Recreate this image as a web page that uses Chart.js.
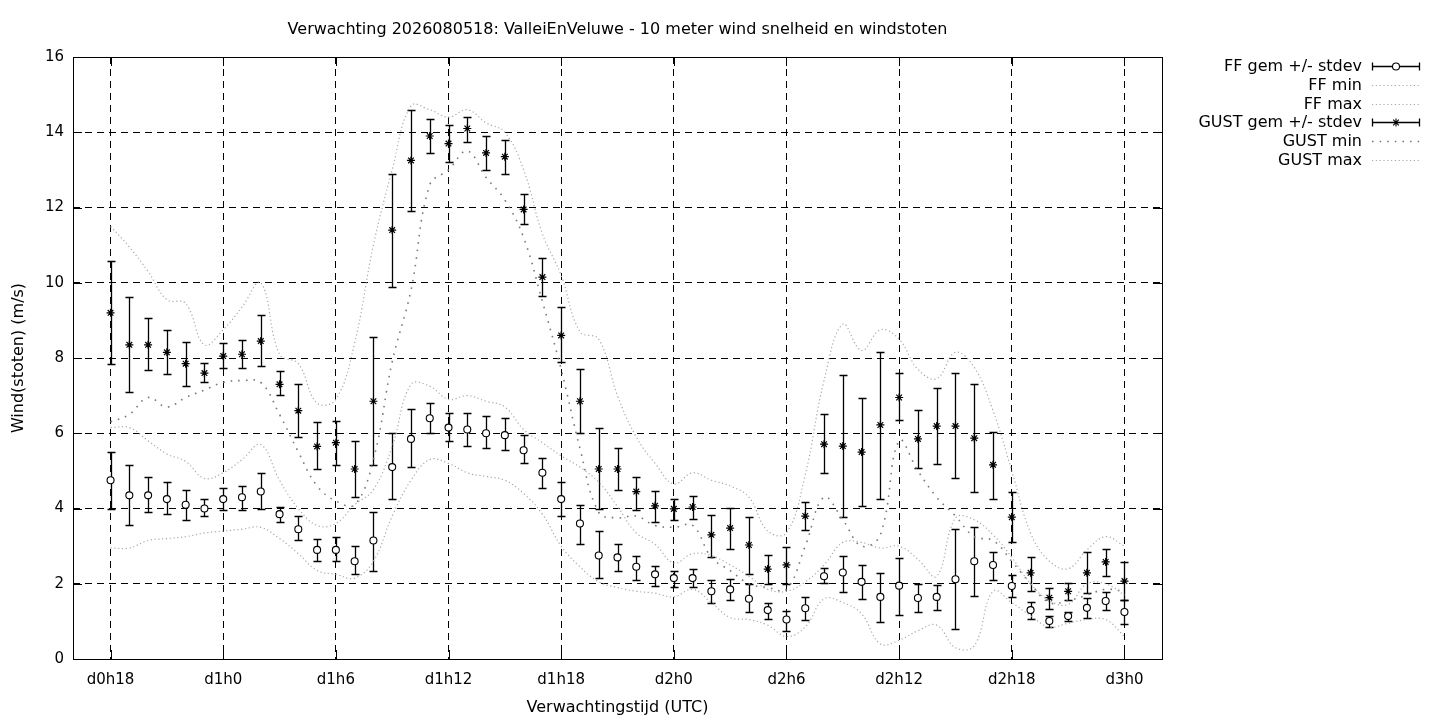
<!DOCTYPE html>
<html lang="nl">
<head>
  <meta charset="UTF-8">
  <title>Verwachting 2026080518: ValleiEnVeluwe - 10 meter wind</title>
  <style>
    body {
      margin: 0;
      background: #fff;
      overflow: hidden;
    }
    canvas {
      display: block;
    }
  </style>
</head>
<body>
<canvas id="windChart" width="1440" height="720"></canvas>

<script src="https://cdn.jsdelivr.net/npm/chart.js"></script>
<script>
  // forecast hours (d0h18 .. d3h0)
  const hours = [18, 19, 20, 21, 22, 23, 24, 25, 26, 27, 28, 29, 30, 31, 32, 33, 34, 35, 36, 37,
    38, 39, 40, 41, 42, 43, 44, 45, 46, 47, 48, 49, 50, 51, 52, 53, 54, 55, 56, 57,
    58, 59, 60, 61, 62, 63, 64, 65, 66, 67, 68, 69, 70, 71, 72];

  const tickHours = [18, 24, 30, 36, 42, 48, 54, 60, 66, 72];
  const tickLabels = ['d0h18', 'd1h0', 'd1h6', 'd1h12', 'd1h18', 'd2h0', 'd2h6', 'd2h12', 'd2h18', 'd3h0'];

  // FF gemiddeld en errorbar (gem -/+ stdev)
  const ffMean = [4.75, 4.35, 4.35, 4.25, 4.1, 4.0, 4.25, 4.3, 4.45, 3.85,
    3.45, 2.9, 2.9, 2.6, 3.15, 5.1, 5.85, 6.4, 6.15, 6.1,
    6.0, 5.95, 5.55, 4.95, 4.25, 3.6, 2.75, 2.7, 2.45, 2.25,
    2.15, 2.15, 1.8, 1.85, 1.6, 1.3, 1.05, 1.35, 2.2, 2.3,
    2.05, 1.65, 1.95, 1.62, 1.65, 2.12, 2.6, 2.5, 1.94, 1.3,
    1.01, 1.14, 1.36, 1.54, 1.25];
  const ffLo = [4.0, 3.55, 3.9, 3.85, 3.7, 3.8, 3.95, 3.95, 4.0, 3.65,
    3.15, 2.6, 2.6, 2.25, 2.35, 4.25, 5.1, 6.0, 5.8, 5.65,
    5.6, 5.55, 5.2, 4.55, 3.8, 3.05, 2.15, 2.35, 2.1, 1.94,
    1.92, 1.92, 1.49, 1.56, 1.25, 1.06, 0.75, 1.04, 2.02, 1.78,
    1.6, 0.98, 1.17, 1.25, 1.3, 0.8, 1.68, 2.1, 1.65, 1.06,
    0.85, 1.01, 1.09, 1.3, 0.93];
  const ffHi = [5.5, 5.15, 4.85, 4.7, 4.5, 4.25, 4.55, 4.6, 4.95, 4.05,
    3.8, 3.2, 3.25, 3.0, 3.9, 6.0, 6.65, 6.8, 6.55, 6.55,
    6.45, 6.4, 5.95, 5.35, 4.7, 4.1, 3.4, 3.05, 2.75, 2.47,
    2.34, 2.38, 2.1, 2.12, 1.99, 1.49, 1.28, 1.65, 2.42, 2.74,
    2.5, 2.29, 2.68, 2.0, 1.97, 3.45, 3.52, 2.84, 2.23, 1.52,
    1.14, 1.25, 1.62, 1.78, 1.57];
  const ffMin = [2.95, 2.95, 3.15, 3.2, 3.25, 3.35, 3.4, 3.45, 3.5, 3.2,
    2.8, 2.35, 2.25, 2.15, 2.6, 3.8, 4.75, 5.3, 5.2, 4.95,
    4.85, 4.75, 4.4, 3.85, 3.0, 2.45, 2.05, 1.9, 1.8, 1.75,
    1.65, 1.85, 1.5, 1.1, 1.05, 0.9, 0.6, 0.85, 1.6, 1.5,
    1.2, 0.4, 0.5, 0.75, 0.9, 0.3, 0.35, 1.8, 1.5, 1.15,
    0.85, 0.95, 1.05, 1.05, 0.6];
  const ffMax = [6.15, 6.15, 5.8, 5.45, 5.25, 4.8, 4.95, 5.3, 5.7, 4.75,
    4.0, 3.55, 3.6, 4.1, 4.5, 5.65, 7.3, 7.25, 6.9, 7.0,
    6.85, 6.7, 6.1, 5.75, 5.4, 5.1, 4.7, 4.05, 3.35, 3.05,
    2.55, 2.8, 2.75, 2.5, 2.2, 1.85, 1.8, 2.05, 2.5, 3.1,
    3.1, 2.95, 3.0, 2.65, 2.2, 3.75, 3.7, 3.3, 2.7, 2.0,
    1.55, 1.45, 2.0, 2.0, 1.7];

  // GUST gemiddeld en errorbar
  const gustMean = [9.2, 8.35, 8.35, 8.15, 7.85, 7.6, 8.05, 8.1, 8.45, 7.3,
    6.6, 5.65, 5.75, 5.05, 6.85, 11.4, 13.25, 13.9, 13.7, 14.1,
    13.45, 13.35, 11.95, 10.15, 8.6, 6.85, 5.05, 5.05, 4.45, 4.07,
    3.99, 4.04, 3.3, 3.48, 3.03, 2.39, 2.5, 3.8, 5.71, 5.66,
    5.5, 6.22, 6.95, 5.85, 6.19, 6.19, 5.87, 5.16, 3.77, 2.29,
    1.63, 1.8, 2.29, 2.58, 2.07];
  const gustLo = [7.84, 7.1, 7.68, 7.57, 7.26, 7.36, 7.73, 7.73, 7.78, 7.02,
    5.9, 5.05, 5.15, 4.3, 5.15, 9.9, 11.9, 13.45, 13.2, 13.75,
    13.0, 12.9, 11.55, 9.65, 7.9, 6.0, 4.0, 4.5, 3.95, 3.64,
    3.69, 3.72, 2.71, 2.92, 2.26, 1.99, 2.0, 3.43, 4.94, 3.77,
    4.07, 4.25, 6.35, 5.08, 5.18, 4.81, 4.44, 4.26, 3.11, 1.81,
    1.33, 1.57, 1.75, 2.21, 1.57];
  const gustHi = [10.58, 9.62, 9.06, 8.74, 8.43, 7.87, 8.4, 8.48, 9.14, 7.65,
    7.31, 6.3, 6.33, 5.8, 8.55, 12.9, 14.6, 14.35, 14.2, 14.4,
    13.9, 13.8, 12.35, 10.65, 9.35, 7.7, 6.15, 5.6, 4.85, 4.47,
    4.25, 4.33, 3.83, 4.01, 3.77, 2.76, 2.98, 4.17, 6.5, 7.55,
    6.95, 8.15, 7.6, 6.62, 7.2, 7.6, 7.3, 6.02, 4.44, 2.71,
    1.89, 2.03, 2.84, 2.92, 2.58];
  const gustMin = [6.3, 6.5, 6.95, 6.7, 6.95, 7.15, 7.35, 7.4, 7.35, 6.5,
    5.5, 4.6, 4.2, 4.1, 5.3, 7.9, 9.8, 12.6, 13.0, 13.5,
    12.8, 12.2, 11.2, 9.5, 7.7, 5.6, 3.9, 3.75, 3.8, 3.55,
    3.5, 3.55, 2.7, 2.35, 2.0, 1.9, 1.85, 3.0, 4.3, 3.7,
    3.0, 3.3, 5.8, 5.0, 4.3, 3.8, 3.25, 3.15, 2.6, 2.0,
    1.5, 1.55, 1.7, 1.85, 1.8];
  const gustMax = [11.5, 10.95, 10.3, 9.55, 9.45, 8.35, 8.75, 9.35, 10.0, 8.1,
    7.85, 6.8, 6.9, 8.4, 11.0, 13.0, 14.7, 14.6, 14.4, 14.6,
    14.25, 14.0, 13.0, 11.3, 10.2, 8.7, 8.5, 7.0, 5.9, 5.2,
    4.65, 4.95, 4.75, 4.6, 4.3, 3.4, 3.35, 4.9, 7.4, 8.9,
    8.2, 8.75, 8.5, 7.7, 7.45, 8.15, 7.75, 6.6, 5.0, 3.35,
    2.6, 2.4, 2.9, 3.25, 3.0];

  const FONT = '"DejaVu Sans", "Liberation Sans", sans-serif';

  function pts(values) {
    return hours.map((h, i) => ({ x: h, y: values[i] }));
  }

  // errorbars worden hier getekend (onder de punten)
  const errorBars = {
    id: 'errorBars',
    beforeDatasetsDraw(chart) {
      const { ctx, scales: { x, y } } = chart;
      ctx.save();
      ctx.strokeStyle = '#000';
      ctx.lineWidth = 1.3;
      chart.data.datasets.forEach(ds => {
        if (!ds.lo) return;
        hours.forEach((h, i) => {
          const px = Math.round(x.getPixelForValue(h)) + 0.5;
          const y1 = Math.round(y.getPixelForValue(ds.lo[i])) + 0.5;
          const y2 = Math.round(y.getPixelForValue(ds.hi[i])) + 0.5;
          ctx.beginPath();
          ctx.moveTo(px, y1); ctx.lineTo(px, y2);
          ctx.moveTo(px - 4, y1); ctx.lineTo(px + 4, y1);
          ctx.moveTo(px - 4, y2); ctx.lineTo(px + 4, y2);
          ctx.stroke();
        });
      });
      ctx.restore();
    }
  };

  // rand, tickmarks, titels en legenda in gnuplot stijl
  const gnuplotDecor = {
    id: 'gnuplotDecor',
    afterDraw(chart) {
      const { ctx, chartArea: a, scales: { x, y } } = chart;
      ctx.save();
      ctx.strokeStyle = '#000';
      ctx.lineWidth = 1;
      ctx.setLineDash([]);
      ctx.strokeRect(Math.round(a.left) + 0.5, Math.round(a.top) + 0.5,
        Math.round(a.right - a.left), Math.round(a.bottom - a.top));

      ctx.beginPath();
      for (let v = 0; v <= 16; v += 2) {
        const py = Math.round(y.getPixelForValue(v)) + 0.5;
        ctx.moveTo(a.left, py); ctx.lineTo(a.left + 9, py);
        ctx.moveTo(a.right, py); ctx.lineTo(a.right - 9, py);
      }
      tickHours.forEach(h => {
        const px = Math.round(x.getPixelForValue(h)) + 0.5;
        ctx.moveTo(px, a.bottom); ctx.lineTo(px, a.bottom - 9);
        ctx.moveTo(px, a.top); ctx.lineTo(px, a.top + 9);
      });
      ctx.stroke();

      ctx.fillStyle = '#000';
      ctx.font = '16px ' + FONT;
      ctx.textAlign = 'center';
      ctx.textBaseline = 'middle';
      const cx = (a.left + a.right) / 2;
      ctx.fillText('Verwachting 2026080518: ValleiEnVeluwe - 10 meter wind snelheid en windstoten', cx, 30);
      ctx.fillText('Verwachtingstijd (UTC)', cx, 708);
      ctx.save();
      ctx.translate(19, (a.top + a.bottom) / 2);
      ctx.rotate(-Math.PI / 2);
      ctx.fillText('Wind(stoten) (m/s)', 0, 0);
      ctx.restore();

      // legenda
      const textRight = 1362, x0 = 1372, x1 = 1420;
      ctx.textAlign = 'right';
      chart.data.datasets.forEach((ds, i) => {
        const ly = 66 + i * 18.75;
        ctx.fillStyle = '#000';
        ctx.fillText(ds.label, textRight, ly + 1);
        const yy = Math.round(ly) + 0.5;
        ctx.save();
        if (ds.lo) {
          ctx.strokeStyle = '#000';
          ctx.lineWidth = 1.3;
          ctx.setLineDash([]);
          ctx.beginPath();
          ctx.moveTo(x0, yy); ctx.lineTo(x1, yy);
          ctx.moveTo(x0 + 0.5, yy - 4); ctx.lineTo(x0 + 0.5, yy + 4);
          ctx.moveTo(x1 - 0.5, yy - 4); ctx.lineTo(x1 - 0.5, yy + 4);
          ctx.stroke();
          ctx.fillStyle = ds.pointBackgroundColor;
          ctx.strokeStyle = '#000';
          ctx.lineWidth = 1.1;
          Chart.helpers.drawPoint(ctx, {
            pointStyle: ds.pointStyle, radius: ds.pointRadius, borderWidth: 1.1, rotation: 0
          }, (x0 + x1) / 2, yy);
        } else {
          ctx.strokeStyle = ds.borderColor;
          ctx.lineWidth = ds.borderWidth;
          ctx.setLineDash(ds.borderDash);
          ctx.beginPath();
          ctx.moveTo(x0, yy); ctx.lineTo(x1, yy);
          ctx.stroke();
        }
        ctx.restore();
      });
      ctx.restore();
    }
  };

  const fineDots = {
    showLine: true,
    pointRadius: 0,
    borderColor: '#a8a8a8',
    borderWidth: 1.2,
    borderDash: [1.2, 2.6],
    tension: 0.4,
    fill: false
  };

  new Chart(document.getElementById('windChart').getContext('2d'), {
    type: 'scatter',
    data: {
      datasets: [
        {
          label: 'FF gem +/- stdev',
          data: pts(ffMean),
          lo: ffLo,
          hi: ffHi,
          pointStyle: 'circle',
          pointRadius: 3.5,
          pointBorderWidth: 1.1,
          pointBorderColor: '#000',
          pointBackgroundColor: '#fff',
          showLine: false
        },
        Object.assign({ label: 'FF min', data: pts(ffMin) }, fineDots),
        Object.assign({ label: 'FF max', data: pts(ffMax) }, fineDots),
        {
          label: 'GUST gem +/- stdev',
          data: pts(gustMean),
          lo: gustLo,
          hi: gustHi,
          pointStyle: 'star',
          pointRadius: 4,
          pointBorderWidth: 1.2,
          pointBorderColor: '#000',
          pointBackgroundColor: '#000',
          showLine: false
        },
        Object.assign({}, fineDots, {
          label: 'GUST min',
          data: pts(gustMin),
          borderColor: '#7a7a7a',
          borderWidth: 1.6,
          borderDash: [1.6, 6]
        }),
        Object.assign({ label: 'GUST max', data: pts(gustMax) }, fineDots)
      ]
    },
    options: {
      responsive: false,
      devicePixelRatio: 1,
      animation: false,
      events: [],
      layout: { padding: { left: 0, top: 57, right: 278, bottom: 0 } },
      plugins: {
        legend: { display: false },
        title: { display: false },
        tooltip: { enabled: false }
      },
      scales: {
        x: {
          type: 'linear',
          min: 16,
          max: 74,
          afterFit: scale => { scale.height = 61; },
          afterBuildTicks: scale => {
            scale.ticks = tickHours.map(v => ({ value: v }));
          },
          ticks: {
            autoSkip: false,
            maxRotation: 0,
            padding: 12,
            color: '#000',
            font: { family: FONT, size: 15 },
            callback: v => tickLabels[tickHours.indexOf(v)]
          },
          grid: { color: '#000', lineWidth: 1, drawTicks: false },
          border: { display: false, dash: [7, 5] }
        },
        y: {
          min: 0,
          max: 16,
          afterFit: scale => { scale.width = 73; },
          ticks: {
            stepSize: 2,
            padding: 9,
            color: '#000',
            font: { family: FONT, size: 15 }
          },
          grid: { color: '#000', lineWidth: 1, drawTicks: false },
          border: { display: false, dash: [7, 5] }
        }
      }
    },
    plugins: [errorBars, gnuplotDecor]
  });
</script>
</body>
</html>
